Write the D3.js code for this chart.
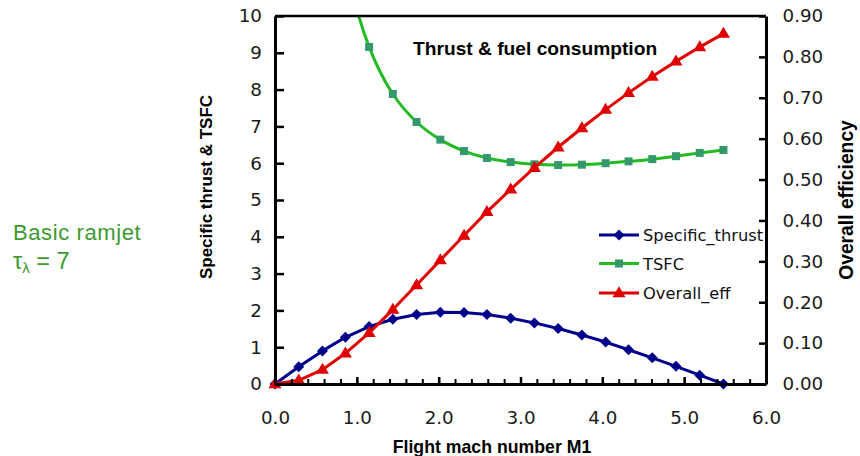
<!DOCTYPE html>
<html>
<head>
<meta charset="utf-8">
<script src="https://cdn.jsdelivr.net/npm/d3@7"></script>
<style>
  body { margin: 0; background: #fff; }
  svg { display: block; }
</style>
</head>
<body>
<svg id="chart" width="860" height="456"></svg>
<script>
// Ideal ramjet performance vs. flight Mach number (tau_lambda = 7)
const mach = [0.00, 0.29, 0.58, 0.86, 1.15, 1.44, 1.73, 2.02, 2.31, 2.59,
              2.88, 3.17, 3.46, 3.75, 4.04, 4.32, 4.61, 4.90, 5.19, 5.48];
const specificThrust = [0, 0.47, 0.90, 1.27, 1.56, 1.76, 1.89, 1.95, 1.94, 1.89,
                        1.79, 1.66, 1.51, 1.33, 1.14, 0.93, 0.71, 0.48, 0.24, 0];
const tsfc = [null, null, 16.4, 11.5, 9.16, 7.88, 7.12, 6.64, 6.33, 6.14,
              6.03, 5.97, 5.95, 5.96, 6.00, 6.05, 6.11, 6.19, 6.28, 6.36];
const overallEff = [0, 0.009, 0.035, 0.075, 0.125, 0.182, 0.242, 0.303, 0.363, 0.421,
                    0.476, 0.529, 0.579, 0.626, 0.671, 0.712, 0.752, 0.789, 0.824, 0.857];

const xTicks = [0, 1, 2, 3, 4, 5, 6];
const xMinorTicks = d3.range(0, 30).map(i => i / 5);
const yLeftTicks = d3.range(0, 11);
const yRightTicks = d3.range(0, 10).map(i => i / 10);

const seriesNames = ["Specific_thrust", "TSFC", "Overall_eff"];

const plot = { left: 275, right: 766, top: 16, bottom: 384 };
const tickFont = "'DejaVu Sans', Verdana, sans-serif";
const boldFont = "'Liberation Sans', Arial, Helvetica, sans-serif";

const svg = d3.select("#chart");

const x = d3.scaleLinear().domain([0, 6]).range([plot.left, plot.right]);
const yL = d3.scaleLinear().domain([0, 10]).range([plot.bottom, plot.top]);
const yR = d3.scaleLinear().domain([0, 0.9]).range([plot.bottom, plot.top]);

const colors = { thrust: "#00008b", tsfcLine: "#22bb22", tsfcMark: "#33996b", eff: "#e00000" };

// marker shapes
function diamondPath(r) { return `M0,${-r}L${r},0L0,${r}L${-r},0Z`; }
function squarePath(r) { return `M${-r},${-r}H${r}V${r}H${-r}Z`; }
function trianglePath(w, h) { return `M0,${-h * 0.62}L${w / 2},${h * 0.38}L${-w / 2},${h * 0.38}Z`; }

svg.append("defs").append("clipPath").attr("id", "plotClip")
  .append("rect")
  .attr("x", plot.left).attr("y", plot.top)
  .attr("width", plot.right - plot.left).attr("height", plot.bottom - plot.top);

// left-hand annotation
const note = svg.append("g").attr("fill", "#3c9a2e")
  .attr("font-family", "'Liberation Sans', Arial, sans-serif");
note.append("text").attr("x", 13).attr("y", 240)
  .attr("font-size", 22).attr("letter-spacing", 0.6).text("Basic ramjet");
const tau = note.append("text").attr("x", 13).attr("y", 269).attr("font-size", 23.5);
tau.append("tspan").text("τ");
tau.append("tspan").attr("font-size", 15).attr("dy", 4).text("λ");
tau.append("tspan").attr("dy", -4).text(" = 7");

// chart title
svg.append("text").attr("x", 413).attr("y", 55)
  .attr("font-family", boldFont).attr("font-weight", "bold").attr("font-size", 19.2)
  .attr("fill", "#000").text("Thrust & fuel consumption");

// series data
const pts = mach.map((m, i) => ({ m, st: specificThrust[i], tf: tsfc[i], ef: overallEff[i] }));

const lineThrust = d3.line().x(d => x(d.m)).y(d => yL(d.st));
const lineTsfc = d3.line().defined(d => d.tf != null).x(d => x(d.m)).y(d => yL(d.tf))
  .curve(d3.curveCatmullRom.alpha(0.5));
const lineEff = d3.line().x(d => x(d.m)).y(d => yR(d.ef));

// Specific thrust
svg.append("path").datum(pts).attr("d", lineThrust)
  .attr("fill", "none").attr("stroke", colors.thrust).attr("stroke-width", 3)
  .attr("stroke-linejoin", "round");
svg.append("g").selectAll("path").data(pts).join("path")
  .attr("transform", d => `translate(${x(d.m)},${yL(d.st)})`)
  .attr("d", diamondPath(5.5)).attr("fill", colors.thrust);

// TSFC
svg.append("path").datum(pts.filter(d => d.tf != null)).attr("d", lineTsfc)
  .attr("clip-path", "url(#plotClip)")
  .attr("fill", "none").attr("stroke", colors.tsfcLine).attr("stroke-width", 3);
svg.append("g").selectAll("path").data(pts.filter(d => d.tf != null && d.tf <= 10)).join("path")
  .attr("transform", d => `translate(${x(d.m)},${yL(d.tf)})`)
  .attr("d", squarePath(4)).attr("fill", colors.tsfcMark);

// Overall efficiency
svg.append("path").datum(pts).attr("d", lineEff)
  .attr("fill", "none").attr("stroke", colors.eff).attr("stroke-width", 3)
  .attr("stroke-linejoin", "round");
svg.append("g").selectAll("path").data(pts).join("path")
  .attr("transform", d => `translate(${x(d.m)},${yR(d.ef)})`)
  .attr("d", trianglePath(13, 11)).attr("fill", colors.eff);

// legend
const legendRows = [
  { name: seriesNames[0], color: colors.thrust, mark: colors.thrust, shape: diamondPath(5.5) },
  { name: seriesNames[1], color: colors.tsfcLine, mark: colors.tsfcMark, shape: squarePath(4) },
  { name: seriesNames[2], color: colors.eff, mark: colors.eff, shape: trianglePath(13, 11) }
];
const legend = svg.append("g").selectAll("g").data(legendRows).join("g")
  .attr("transform", (d, i) => `translate(599,${[235, 263.5, 293][i]})`);
legend.append("line").attr("x1", 0).attr("x2", 40)
  .attr("stroke", d => d.color).attr("stroke-width", 3);
legend.append("path").attr("transform", "translate(20,0)")
  .attr("d", d => d.shape).attr("fill", d => d.mark);
legend.append("text").attr("x", 44).attr("y", 6)
  .attr("font-family", tickFont).attr("font-size", 16.3).attr("fill", "#111")
  .text(d => d.name);

// frame top edge
svg.append("line")
  .attr("x1", x(0)).attr("x2", x(6)).attr("y1", yL(10)).attr("y2", yL(10))
  .attr("stroke", "#000").attr("stroke-width", 2.5);

function styleAxis(g, sw) {
  g.select(".domain").attr("stroke", "#000").attr("stroke-width", 3);
  g.selectAll(".tick line").attr("stroke", "#000").attr("stroke-width", sw);
  g.selectAll(".tick text").attr("fill", "#1a1a1a")
    .attr("font-family", tickFont).attr("font-size", 18.3);
}

// minor x ticks
svg.append("g").attr("transform", `translate(0,${plot.bottom})`)
  .call(d3.axisBottom(x).tickValues(xMinorTicks).tickSizeInner(-5).tickSizeOuter(0).tickFormat(""))
  .call(g => { g.select(".domain").remove(); g.selectAll(".tick line").attr("stroke", "#000").attr("stroke-width", 2); });

// bottom axis
svg.append("g").attr("transform", `translate(0,${plot.bottom})`)
  .call(d3.axisBottom(x).tickValues(xTicks).tickSizeInner(-7).tickSizeOuter(0)
    .tickPadding(27.5).tickFormat(d3.format(".1f")))
  .call(g => styleAxis(g, 2.5));

// left axis
svg.append("g").attr("transform", `translate(${plot.left},0)`)
  .call(d3.axisLeft(yL).tickValues(yLeftTicks).tickSizeInner(-9).tickSizeOuter(0)
    .tickPadding(13).tickFormat(d3.format("d")))
  .call(g => styleAxis(g, 2.5));

// right axis
svg.append("g").attr("transform", `translate(${plot.right},0)`)
  .call(d3.axisRight(yR).tickValues(yRightTicks).tickSizeInner(-7).tickSizeOuter(0)
    .tickPadding(16.5).tickFormat(d3.format(".2f")))
  .call(g => styleAxis(g, 2.5));

// axis titles
svg.append("text").attr("x", 492).attr("y", 453)
  .attr("text-anchor", "middle")
  .attr("font-family", boldFont).attr("font-weight", "bold").attr("font-size", 17.7)
  .text("Flight mach number M1");
svg.append("text").attr("transform", "translate(212,187) rotate(-90)")
  .attr("text-anchor", "middle")
  .attr("font-family", boldFont).attr("font-weight", "bold").attr("font-size", 17)
  .text("Specific thrust & TSFC");
svg.append("text").attr("transform", "translate(853,200) rotate(-90)")
  .attr("text-anchor", "middle")
  .attr("font-family", boldFont).attr("font-weight", "bold").attr("font-size", 19.3)
  .text("Overall efficiency");
</script>
</body>
</html>
